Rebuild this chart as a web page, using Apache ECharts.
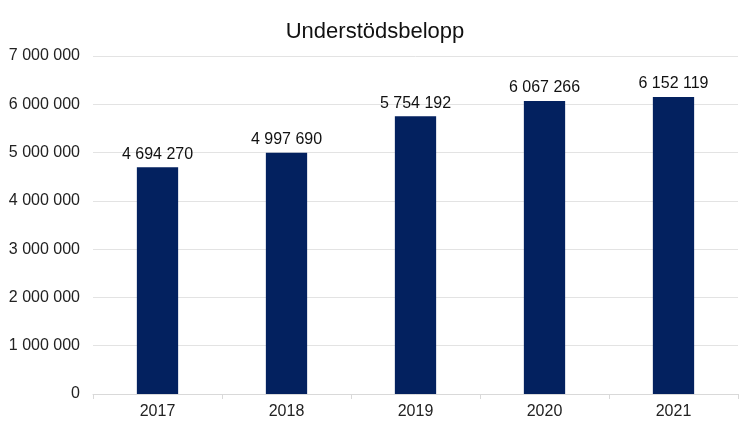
<!DOCTYPE html>
<html><head><meta charset="utf-8">
<script src="https://cdn.jsdelivr.net/npm/echarts@6/dist/echarts.min.js"></script>
<style>html,body{margin:0;padding:0;background:#fff}#c{width:750px;height:436px}</style>
</head><body><div id="c"></div>
<script>
const categories = ['2017','2018','2019','2020','2021'];
const values = [4694270, 4997690, 5754192, 6067266, 6152119];
const titleText = 'Understödsbelopp';
function fmt(v){return String(Math.round(v)).replace(/\B(?=(\d{3})+(?!\d))/g,' ');}
const chart = echarts.init(document.getElementById('c'));
chart.setOption({
  animation:false,
  title:{text:titleText,left:'center',top:16,textStyle:{fontFamily:'Liberation Sans, Arial',fontSize:22,fontWeight:'normal',color:'#111'}},
  grid:{left:93,right:12,top:56,bottom:42},
  xAxis:{type:'category',data:categories,
    axisLine:{lineStyle:{color:'#d9d9d9'}},
    axisTick:{show:true,length:5,lineStyle:{color:'#d9d9d9'}},
    axisLabel:{color:'#222',fontSize:16,fontFamily:'Liberation Sans, Arial',margin:10}},
  yAxis:{type:'value',min:0,max:7000000,interval:1000000,
    axisLine:{show:false},axisTick:{show:false},
    splitLine:{lineStyle:{color:'#e3e3e3'}},
    axisLabel:{color:'#222',fontSize:16,fontFamily:'Liberation Sans, Arial',margin:13,formatter:fmt}},
  series:[{type:'bar',data:values,barWidth:'32%',itemStyle:{color:'#03215f'},
    label:{show:true,position:'top',distance:5,color:'#111',fontSize:16,fontFamily:'Liberation Sans, Arial',formatter:p=>fmt(p.value)}}]
});
</script></body></html>
